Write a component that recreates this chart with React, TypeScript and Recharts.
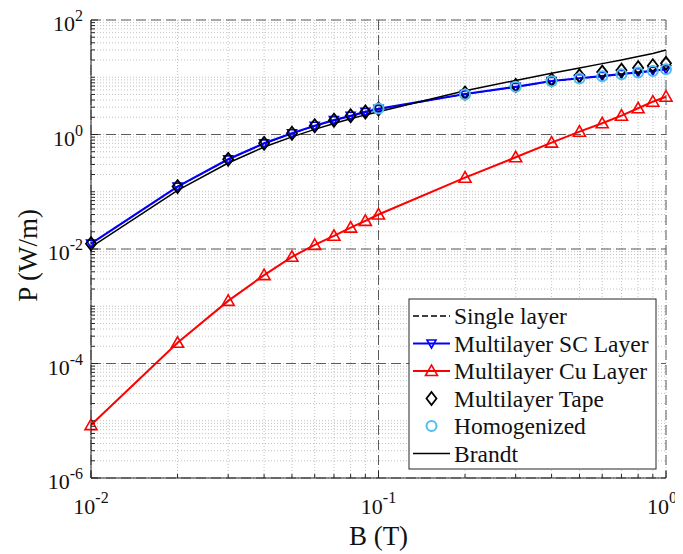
import React from 'react';
import { LineChart, Line, XAxis, YAxis, CartesianGrid, Customized } from 'recharts';

// ---------------- data ----------------
const fieldB = [0.01, 0.02, 0.03, 0.04, 0.05, 0.06, 0.07, 0.08, 0.09, 0.1, 0.2, 0.3, 0.4, 0.5, 0.6, 0.7, 0.8, 0.9, 1.0];
const singleLayer = [0.0124, 0.122, 0.365, 0.70, 1.04, 1.41, 1.77, 2.11, 2.47, 2.78, 5.05, 6.75, 8.5, 9.5, 10.4, 11.3, 12.1, 12.9, 13.7];
const scLayer = [0.0124, 0.123, 0.368, 0.70, 1.05, 1.42, 1.78, 2.12, 2.48, 2.8, 5.1, 6.8, 8.6, 9.6, 10.5, 11.4, 12.2, 13.0, 13.8];
const cuLayer = [8.4e-6, 2.3e-4, 1.24e-3, 3.5e-3, 7.3e-3, 0.0118, 0.0170, 0.0236, 0.031, 0.040, 0.176, 0.40, 0.72, 1.12, 1.57, 2.13, 2.87, 3.74, 4.57];
const multilayerTape = [0.0124, 0.123, 0.368, 0.70, 1.05, 1.42, 1.78, 2.12, 2.48, 2.8, 5.3, 7.2, 9.0, 10.6, 12.3, 13.3, 14.7, 15.9, 17.5];
const homogB = [0.1, 0.2, 0.3, 0.4, 0.5, 0.6, 0.7, 0.8, 0.9, 1.0];
const homogenized = [2.85, 5.0, 6.8, 8.5, 9.5, 10.4, 11.3, 12.1, 12.9, 13.8];
const brandt = [0.0108, 0.106, 0.318, 0.605, 0.91, 1.23, 1.56, 1.88, 2.2, 2.5, 5.8, 8.8, 11.7, 14.5, 17.3, 20.1, 23.0, 26.0, 29.8];

const xMajorTicks = [0.01, 0.1, 1];
const yMajorTicks = [1e-6, 1e-4, 1e-2, 1, 100];
const xDecades = [-2, -1];
const yDecades = [-6, -5, -4, -3, -2, -1, 0, 1];
const xGridMajor = [0.1];
const yGridMajor = [1e-4, 1e-2, 1];

const legendLabels = ['Single layer', 'Multilayer SC Layer', 'Multilayer Cu Layer', 'Multilayer Tape', 'Homogenized', 'Brandt'];

// ---------------- helpers ----------------
const allTicks = (decades: number[], last: number) => {
  const out: number[] = [];
  decades.forEach((e) => {
    for (let k = 1; k <= 9; k++) out.push(Number((k * Math.pow(10, e)).toPrecision(6)));
  });
  out.push(last);
  return out;
};
const xTicks = allTicks(xDecades, 1);
const yTicks = allTicks(yDecades, 100);

const pts = (xs: number[], ys: number[]) => xs.map((x, i) => ({ x, y: ys[i] }));
const singleData = pts(fieldB, singleLayer);
const scData = pts(fieldB, scLayer);
const cuData = pts(fieldB, cuLayer);
const tapeData = pts(fieldB, multilayerTape);
const homogData = pts(homogB, homogenized);
const brandtData = pts(fieldB, brandt);

const isMajor = (v: number, majors: number[]) => majors.some((m) => Math.abs(Math.log10(v) - Math.log10(m)) < 1e-6);

const SERIF = '"Liberation Serif", "Times New Roman", serif';
const AX = '#262626';
const TXT = '#111111';
const BLUE = '#0000ff';
const RED = '#ff0000';
const CYAN = '#4DBEEE';

// ---------------- ticks ----------------
const BottomTick = (props: any) => {
  const { x, y, payload } = props;
  const v = payload.value;
  const major = isMajor(v, xMajorTicks);
  const e = Math.round(Math.log10(v));
  const shift = e === 0 ? -4 : 0;
  return (
    <g>
      <line x1={x} x2={x} y1={y} y2={y - (major ? 7 : 4)} stroke={AX} strokeWidth={1} />
      {major && (
        <text x={x + shift} y={y + 36} textAnchor="middle" fontFamily={SERIF} fontSize={22} fill={TXT}>
          10<tspan dy={-11} fontSize={16}>{e}</tspan>
        </text>
      )}
    </g>
  );
};
const TopTick = (props: any) => {
  const { x, y, payload } = props;
  const major = isMajor(payload.value, xMajorTicks);
  return <line x1={x} x2={x} y1={y} y2={y + (major ? 7 : 4)} stroke={AX} strokeWidth={1} />;
};
const LeftTick = (props: any) => {
  const { x, y, payload } = props;
  const v = payload.value;
  const major = isMajor(v, yMajorTicks);
  const e = Math.round(Math.log10(v));
  return (
    <g>
      <line x1={x} x2={x + (major ? 7 : 4)} y1={y} y2={y} stroke={AX} strokeWidth={1} />
      {major && (
        <text x={x - 8} y={y + 11} textAnchor="end" fontFamily={SERIF} fontSize={22} fill={TXT}>
          10<tspan dy={-10} fontSize={16}>{e}</tspan>
        </text>
      )}
    </g>
  );
};
const RightTick = (props: any) => {
  const { x, y, payload } = props;
  const major = isMajor(payload.value, yMajorTicks);
  return <line x1={x} x2={x - (major ? 7 : 4)} y1={y} y2={y} stroke={AX} strokeWidth={1} />;
};

// ---------------- titles ----------------
const XTitle = (props: any) => {
  const vb = props.viewBox || { x: 83, y: 470, width: 575, height: 76 };
  return (
    <text x={vb.x + vb.width / 2} y={vb.y + 67} textAnchor="middle" fontFamily={SERIF} fontSize={27} fill={TXT}>
      B (T)
    </text>
  );
};
const YTitle = (props: any) => {
  const vb = props.viewBox || { x: 0, y: 12, width: 83, height: 458 };
  const cx = vb.x + 28.5;
  const cy = vb.y + vb.height / 2 + 6.5;
  return (
    <text transform={`translate(${cx},${cy}) rotate(-90)`} textAnchor="middle" fontFamily={SERIF} fontSize={27} fill={TXT}>
      P (W/m)
    </text>
  );
};

// ---------------- markers ----------------
const DownTri = ({ cx, cy, color }: any) => (
  <polygon points={`${cx - 4.5},${cy - 3.5} ${cx + 4.5},${cy - 3.5} ${cx},${cy + 4.5}`} fill="none" stroke={color} strokeWidth={1.6} />
);
const UpTri = ({ cx, cy, color }: any) => (
  <polygon points={`${cx - 6},${cy + 4.5} ${cx + 6},${cy + 4.5} ${cx},${cy - 6}`} fill="none" stroke={color} strokeWidth={1.6} />
);
const Diamond = ({ cx, cy, color }: any) => (
  <polygon points={`${cx},${cy - 6.5} ${cx + 5},${cy} ${cx},${cy + 6.5} ${cx - 5},${cy}`} fill="none" stroke={color} strokeWidth={1.8} />
);
const Circ = ({ cx, cy, color }: any) => <circle cx={cx} cy={cy} r={5} fill="none" stroke={color} strokeWidth={2} />;

const dotOf = (Shape: any, color: string) => (p: any) => {
  if (p.cx == null || p.cy == null) return <g key={`e${p.index}`} />;
  return <Shape key={`m${p.index}`} cx={p.cx} cy={p.cy} color={color} />;
};

// ---------------- legend ----------------
const LegendBox = () => {
  const x0 = 401;
  const y0 = 291;
  const w = 247;
  const h = 170;
  const rowH = 27.5;
  const first = 17;
  const sx1 = 405;
  const sx2 = 442;
  const mx = (sx1 + sx2) / 2;
  const tx = 446;
  return (
    <g>
      <rect x={x0} y={y0} width={w} height={h} fill="#ffffff" stroke={AX} strokeWidth={1} />
      {legendLabels.map((label, i) => {
        const cy = y0 + first + i * rowH;
        let sample: any = null;
        if (i === 0) sample = <line x1={sx1} x2={sx2} y1={cy} y2={cy} stroke="#000" strokeWidth={1.5} strokeDasharray="6 3" />;
        if (i === 1)
          sample = (
            <g>
              <line x1={sx1} x2={sx2} y1={cy} y2={cy} stroke={BLUE} strokeWidth={2} />
              <DownTri cx={mx} cy={cy} color={BLUE} />
            </g>
          );
        if (i === 2)
          sample = (
            <g>
              <line x1={sx1} x2={sx2} y1={cy} y2={cy} stroke={RED} strokeWidth={2} />
              <UpTri cx={mx} cy={cy} color={RED} />
            </g>
          );
        if (i === 3) sample = <Diamond cx={mx} cy={cy} color="#000" />;
        if (i === 4) sample = <Circ cx={mx} cy={cy} color={CYAN} />;
        if (i === 5) sample = <line x1={sx1} x2={sx2} y1={cy} y2={cy} stroke="#000" strokeWidth={1.5} />;
        return (
          <g key={label}>
            {sample}
            <text x={tx} y={cy + 8} fontFamily={SERIF} fontSize={23.5} fill={TXT}>
              {label}
            </text>
          </g>
        );
      })}
    </g>
  );
};

export default function App() {
  return (
    <div style={{ width: 675, height: 546, background: '#fff' }}>
      <style>{`html, body { overflow: hidden; } .recharts-wrapper, .recharts-surface { overflow: visible !important; }`}</style>
      <LineChart width={675} height={546} margin={{ top: 12, right: 17, left: 0, bottom: 0 }}>
        <XAxis
          xAxisId="b"
          dataKey="x"
          type="number"
          scale="log"
          domain={[0.01, 1]}
          ticks={xTicks}
          interval={0}
          height={76}
          tickSize={0}
          tickMargin={0}
          tickLine={false}
          axisLine={{ stroke: AX, strokeWidth: 1 }}
          tick={<BottomTick />}
          label={<XTitle />}
        />
        <XAxis
          xAxisId="t"
          orientation="top"
          dataKey="x"
          type="number"
          scale="log"
          domain={[0.01, 1]}
          allowDataOverflow
          ticks={xTicks}
          interval={0}
          height={0}
          tickSize={0}
          tickMargin={0}
          tickLine={false}
          axisLine={{ stroke: AX, strokeWidth: 1 }}
          tick={<TopTick />}
        />
        <XAxis xAxisId="maj" hide dataKey="x" type="number" scale="log" domain={[0.01, 1]} allowDataOverflow ticks={xGridMajor} interval={0} />
        <YAxis
          yAxisId="l"
          type="number"
          scale="log"
          domain={[1e-6, 100]}
          ticks={yTicks}
          interval={0}
          width={83}
          tickSize={0}
          tickMargin={0}
          tickLine={false}
          axisLine={{ stroke: AX, strokeWidth: 1 }}
          tick={<LeftTick />}
          label={<YTitle />}
        />
        <YAxis
          yAxisId="r"
          orientation="right"
          type="number"
          scale="log"
          domain={[1e-6, 100]}
          allowDataOverflow
          ticks={yTicks}
          interval={0}
          width={0}
          tickSize={0}
          tickMargin={0}
          tickLine={false}
          axisLine={{ stroke: AX, strokeWidth: 1 }}
          tick={<RightTick />}
        />
        <YAxis yAxisId="maj" hide type="number" scale="log" domain={[1e-6, 100]} allowDataOverflow ticks={yGridMajor} interval={0} />

        <CartesianGrid xAxisId="b" yAxisId="l" stroke="#c2c2c2" strokeWidth={1} strokeDasharray="1 2" />
        <CartesianGrid xAxisId="maj" yAxisId="maj" stroke="#5a5a5a" strokeWidth={1} strokeDasharray="10 5" />

        <Line xAxisId="b" yAxisId="l" data={singleData} dataKey="y" type="linear" stroke="#000" strokeWidth={1.2} strokeDasharray="6 3" dot={false} activeDot={false} isAnimationActive={false} />
        <Line xAxisId="b" yAxisId="l" data={scData} dataKey="y" type="linear" stroke={BLUE} strokeWidth={2.2} dot={dotOf(DownTri, BLUE)} activeDot={false} isAnimationActive={false} />
        <Line xAxisId="b" yAxisId="l" data={cuData} dataKey="y" type="linear" stroke={RED} strokeWidth={2} dot={dotOf(UpTri, RED)} activeDot={false} isAnimationActive={false} />
        <Line xAxisId="b" yAxisId="l" data={tapeData} dataKey="y" type="linear" stroke="none" dot={dotOf(Diamond, '#000')} activeDot={false} isAnimationActive={false} />
        <Line xAxisId="b" yAxisId="l" data={homogData} dataKey="y" type="linear" stroke="none" dot={dotOf(Circ, CYAN)} activeDot={false} isAnimationActive={false} />
        <Line xAxisId="b" yAxisId="l" data={brandtData} dataKey="y" type="linear" stroke="#000" strokeWidth={1.5} dot={false} activeDot={false} isAnimationActive={false} />

        <Customized component={LegendBox} />
      </LineChart>
    </div>
  );
}
